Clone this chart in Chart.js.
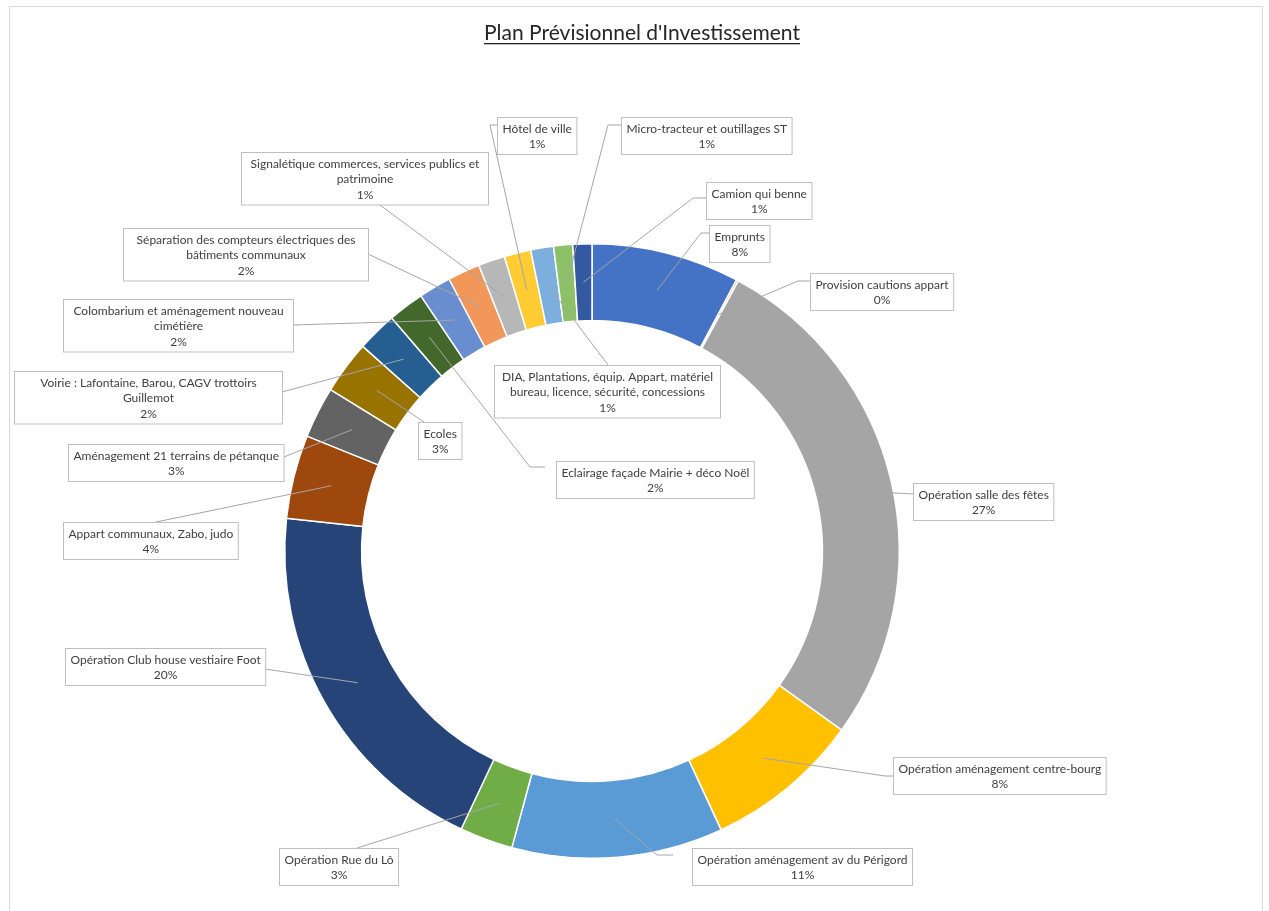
<!DOCTYPE html>
<html lang="fr">
<head>
<meta charset="utf-8">
<title>Plan Prévisionnel d'Investissement</title>
<script src="https://cdn.jsdelivr.net/npm/chart.js@4.4.1/dist/chart.umd.min.js"></script>
<style>
	html, body { margin: 0; padding: 0; background: #fff; }
	#wrap { position: relative; width: 1269px; height: 911px; }
</style>
</head>
<body>
<div id="wrap"><canvas id="ppi" width="1269" height="911"></canvas></div>
<script>
(() => {
	"use strict";

	const title = "Plan Prévisionnel d'Investissement";

	const categories = [
		"Emprunts",
		"Provision cautions appart",
		"Opération salle des fêtes",
		"Opération aménagement centre-bourg",
		"Opération aménagement av du Périgord",
		"Opération Rue du Lô",
		"Opération Club house vestiaire Foot",
		"Appart communaux, Zabo, judo",
		"Aménagement 21 terrains de pétanque",
		"Ecoles",
		"Voirie : Lafontaine, Barou, CAGV trottoirs Guillemot",
		"Eclairage façade Mairie + déco Noël",
		"Colombarium et aménagement nouveau cimétière",
		"Séparation des compteurs électriques des bâtiments communaux",
		"Signalétique commerces, services publics et patrimoine",
		"Hôtel de ville",
		"DIA, Plantations, équip. Appart, matériel bureau, licence, sécurité, concessions",
		"Micro-tracteur et outillages ST",
		"Camion qui benne",
	];

	// share of the total budget, in %
	const shares = [
		7.8, 0.1, 27.0, 8.2, 11.1, 2.8, 19.7, 4.4, 2.7, 2.8,
		2.1, 1.9, 1.7, 1.7, 1.4, 1.4, 1.2, 1.0, 1.0,
	];

	const colors = [
		"#4472C4", "#ED7D31", "#A5A5A5", "#FFC000", "#5B9BD5", "#70AD47",
		"#264478", "#9E480E", "#636363", "#997300", "#255E91", "#43682B",
		"#698ED0", "#F1975A", "#B7B7B7", "#FFCD33", "#7CAFDD", "#8CC168",
		"#335AA1",
	];

	// callout boxes: horizontal placement (left edge, right edge or centre),
	// top y, words kept on the first line, fixed width for wrapped boxes,
	// and the leader's elbow / end next to the box
	const callouts = [
		{ left: 709, top: 225, end: [709, 233], elbow: [701, 233] },
		{ left: 810, top: 273, end: [810, 281], elbow: [798, 281] },
		{ left: 913, top: 483, end: [913, 494] },
		{ left: 893, top: 757, end: [893, 776], elbow: [885, 776] },
		{ left: 692, top: 848, end: [673, 855], elbow: [657, 855] },
		{ cx: 339, top: 848, end: [357, 848] },
		{ right: 265, top: 648, end: [265, 669] },
		{ cx: 150, top: 522, end: [156, 522] },
		{ right: 284, top: 444, end: [284, 457] },
		{ cx: 440, top: 422, end: [424, 422] },
		{ right: 282, top: 371, wrap: 6, width: 268, end: [282, 392] },
		{ left: 556, top: 461, end: [545, 467], elbow: [530, 467] },
		{ right: 293, top: 299, wrap: 4, width: 230, end: [293, 325] },
		{ right: 368, top: 228, wrap: 5, width: 245, end: [368, 254] },
		{ cx: 364, top: 152, wrap: 5, width: 247, end: [380, 205] },
		{ left: 497, top: 117, end: [497, 125], elbow: [490, 125] },
		{ cx: 607, top: 365, wrap: 5, width: 226, end: [608, 365] },
		{ left: 621, top: 117, end: [621, 125], elbow: [608, 125] },
		{ left: 706, top: 182, end: [706, 198], elbow: [693, 198] },
	];

	const FONT = "Lato, 'Open Sans', sans-serif";
	const LABEL_SIZE = 12;
	const LINE_H = 15.5;

	const total = shares.reduce((a, b) => a + b, 0);

	function labelLines(i) {
		const pct = Math.round((shares[i] / total) * 100) + "%";
		const words = categories[i].split(" ");
		const n = callouts[i].wrap;
		if (!n || n >= words.length) return [categories[i], pct];
		return [words.slice(0, n).join(" "), words.slice(n).join(" "), pct];
	}

	const calloutPlugin = {
		id: "callouts",
		afterDraw(chart) {
			const ctx = chart.ctx;
			const arcs = chart.getDatasetMeta(0).data;
			ctx.save();

			// outer frame
			ctx.strokeStyle = "#D9D9D9";
			ctx.lineWidth = 1;
			ctx.strokeRect(9.5, 6.5, 1253, 920);

			// title, underlined
			ctx.font = "21px " + FONT;
			ctx.fillStyle = "#262626";
			ctx.textAlign = "center";
			ctx.textBaseline = "alphabetic";
			ctx.fillText(title, 642, 40);
			const tw = ctx.measureText(title).width;
			ctx.fillRect(642 - tw / 2, 43, tw, 1.3);

			// leader lines
			ctx.strokeStyle = "#A6A6A6";
			ctx.lineWidth = 1;
			arcs.forEach((arc, i) => {
				const c = callouts[i];
				const p = arc.getCenterPoint();
				ctx.beginPath();
				ctx.moveTo(p.x, p.y);
				if (c.elbow) ctx.lineTo(c.elbow[0], c.elbow[1]);
				ctx.lineTo(c.end[0], c.end[1]);
				ctx.stroke();
			});

			// label boxes
			ctx.font = LABEL_SIZE + "px " + FONT;
			ctx.textBaseline = "middle";
			arcs.forEach((arc, i) => {
				const c = callouts[i];
				const lines = labelLines(i);
				const w = c.width || Math.max(...lines.map((l) => ctx.measureText(l).width)) + 10;
				const h = lines.length * LINE_H + 6;
				let x0;
				if (c.left !== undefined) x0 = c.left;
				else if (c.right !== undefined) x0 = c.right - w;
				else x0 = c.cx - w / 2;
				x0 = Math.round(x0) + 0.5;
				const mid = x0 + w / 2;
				ctx.fillStyle = "#FFFFFF";
				ctx.fillRect(x0, c.top + 0.5, w, h);
				ctx.strokeStyle = "#BFBFBF";
				ctx.strokeRect(x0, c.top + 0.5, w, h);
				ctx.fillStyle = "#404040";
				lines.forEach((l, k) => {
					ctx.fillText(l, mid, c.top + 3 + LINE_H * (k + 0.5) + 1);
				});
			});
			ctx.restore();
		},
	};

	new Chart(document.getElementById("ppi"), {
		type: "doughnut",
		data: {
			labels: categories,
			datasets: [
				{
					data: shares,
					backgroundColor: colors,
					borderColor: "#FFFFFF",
					borderWidth: 1.5,
				},
			],
		},
		options: {
			responsive: false,
			animation: false,
			cutout: "75%",
			layout: {
				padding: { left: 284, top: 243, right: 369, bottom: 52 },
			},
			plugins: {
				legend: { display: false },
				tooltip: { enabled: false },
			},
		},
		plugins: [calloutPlugin],
	});
})();
</script>
</body>
</html>
